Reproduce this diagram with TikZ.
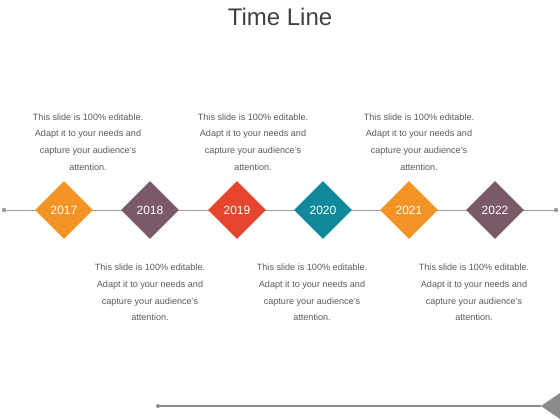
\documentclass[tikz,border=0pt]{standalone}
\usepackage{fontspec}
\setmainfont{Liberation Sans}
\definecolor{torange}{HTML}{F39324}
\definecolor{tmauve}{HTML}{7A5A68}
\definecolor{tred}{HTML}{E5452C}
\definecolor{tteal}{HTML}{12899A}
\definecolor{tline}{HTML}{9A9A9A}
\definecolor{ttext}{HTML}{5A5A5A}
\begin{document}
\begin{tikzpicture}[x=1pt,y=-1pt,
  yearbox/.style={draw=none,rotate=45,minimum size=41pt,inner sep=0pt,fill=#1},
  yeartext/.style={text=white,font=\fontsize{12}{14}\selectfont},
  desc/.style={text=ttext,align=center,font=\fontsize{9.1}{16.8}\selectfont,inner sep=0pt},
  dotc/.style={circle,fill=tline,inner sep=0pt,minimum size=4.5pt}]
\useasboundingbox (0,0) rectangle (560,420);
\node[font=\fontsize{24}{28}\selectfont,text=black!75] (title) at (280,17) {Time Line};
\node[dotc] (l) at (4,210) {};
\node[dotc] (r) at (556,210) {};
\draw[tline,line width=1pt] (l) -- (r);
\foreach \x/\y/\c [count=\i] in {64/2017/torange,150/2018/tmauve,237/2019/tred,323/2020/tteal,409/2021/torange,495/2022/tmauve}{
  \node[yearbox=\c] (d\i) at (\x,210) {};
  \node[yeartext] (y\i) at (d\i) {\y};
}
\foreach \x [count=\i] in {88,253,419}{
  \node[desc] (u\i) at (\x,142) {This slide is 100\% editable.\\Adapt it to your needs and\\capture your audience's\\attention.};
}
\foreach \x [count=\i] in {150,312,474}{
  \node[desc] (b\i) at (\x,292.5) {This slide is 100\% editable.\\Adapt it to your needs and\\capture your audience's\\attention.};
}
\node[circle,fill=tline!90!black,inner sep=0pt,minimum size=4pt] (bl) at (158,406) {};
\coordinate (tip) at (541,406);
\draw[tline!90!black,line width=1.5pt] (bl) -- (tip);
\fill[tline!90!black] (tip) -- (560,393) -- (560,419) -- cycle;
\end{tikzpicture}
\end{document}
